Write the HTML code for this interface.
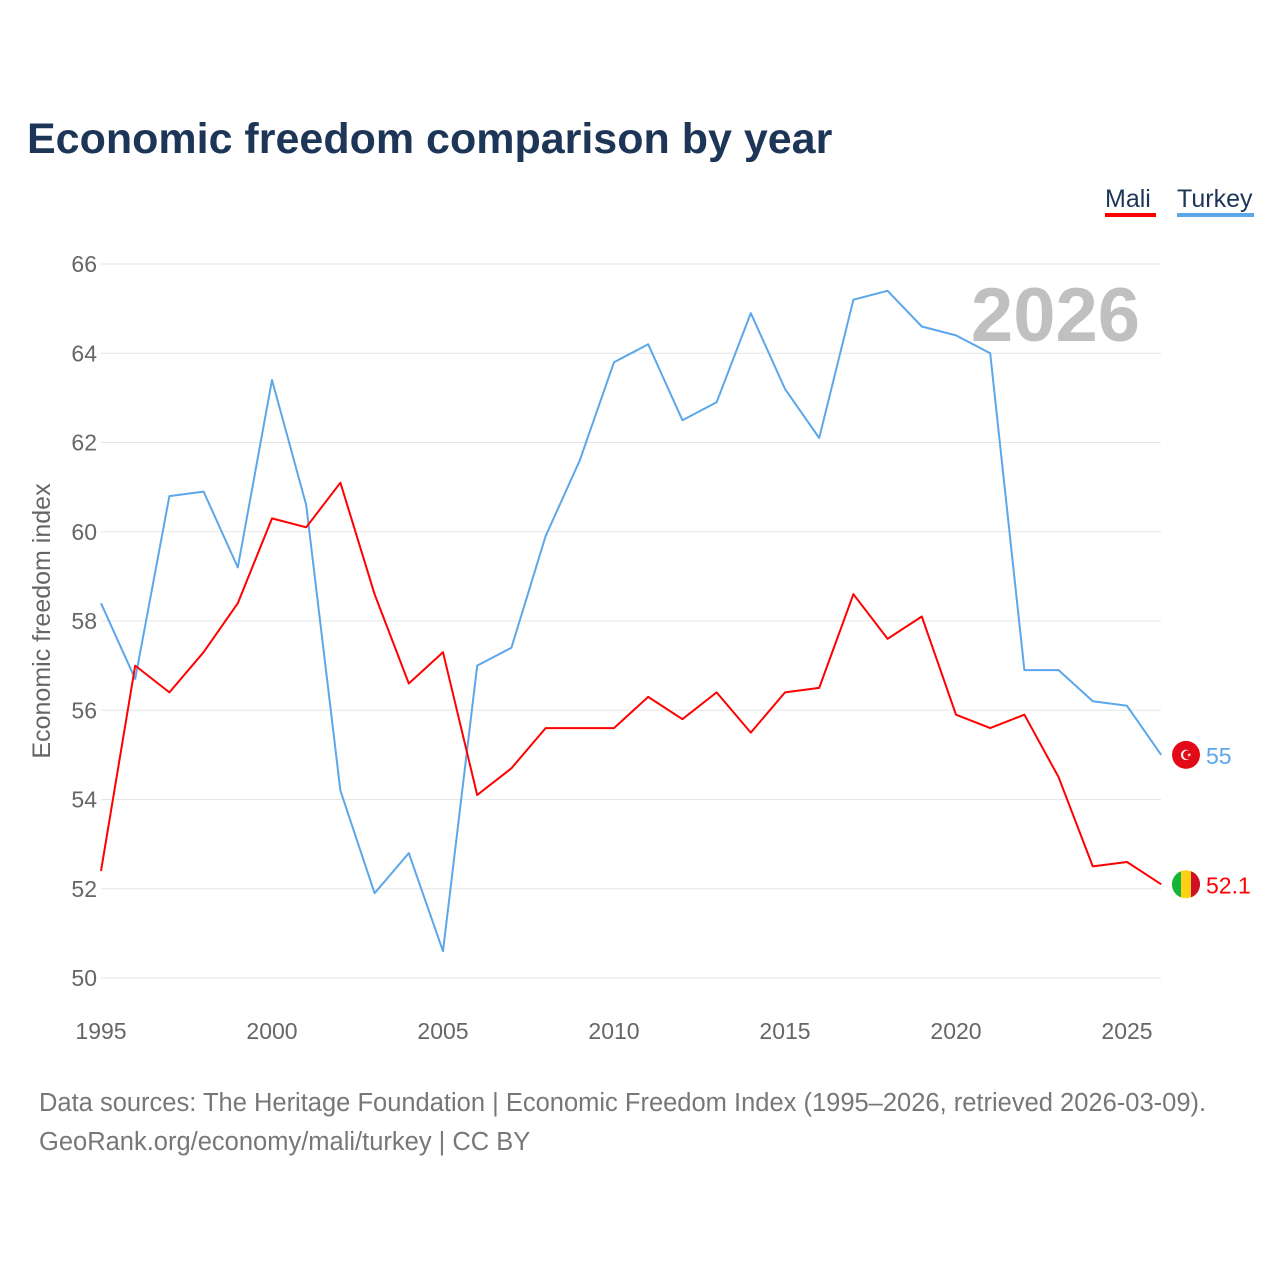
<!DOCTYPE html>
<html><head><meta charset="utf-8">
<style>
body{margin:0;background:#fff;font-family:"Liberation Sans",sans-serif;}
#wrap{position:relative;width:1280px;height:1280px;overflow:hidden;}
</style></head>
<body>
<div id="wrap">
<svg id="chart" width="1280" height="1280" xmlns="http://www.w3.org/2000/svg">
<text x="27" y="153" font-size="43" font-weight="bold" fill="#1d3557" font-family="Liberation Sans, sans-serif">Economic freedom comparison by year</text>
<g>
<text x="1105" y="207" font-size="25" fill="#1d3557">Mali</text>
<rect x="1105" y="213" width="51" height="4" fill="#ff0000"/>
<text x="1177" y="207" font-size="25" fill="#1d3557">Turkey</text>
<rect x="1177" y="213" width="77" height="4" fill="#5ca7ea"/>
</g>
<text x="1140" y="341" font-size="76" font-weight="bold" fill="#c0c0c0" text-anchor="end">2026</text>
<g id="grid"></g>
<g id="series"></g>
<text transform="translate(50,621) rotate(-90)" font-size="25" fill="#666" text-anchor="middle">Economic freedom index</text>
<text x="39" y="1111" font-size="25.5" fill="#777">Data sources: The Heritage Foundation | Economic Freedom Index (1995–2026, retrieved 2026-03-09).</text>
<text x="39" y="1150" font-size="25.5" fill="#777">GeoRank.org/economy/mali/turkey | CC BY</text>
</svg>
</div>
<script>
const years=[1995,1996,1997,1998,1999,2000,2001,2002,2003,2004,2005,2006,2007,2008,2009,2010,2011,2012,2013,2014,2015,2016,2017,2018,2019,2020,2021,2022,2023,2024,2025,2026];
const turkey=[58.4,56.7,60.8,60.9,59.2,63.4,60.6,54.2,51.9,52.8,50.6,57.0,57.4,59.9,61.6,63.8,64.2,62.5,62.9,64.9,63.2,62.1,65.2,65.4,64.6,64.4,64.0,56.9,56.9,56.2,56.1,55.0];
const mali=[52.4,57.0,56.4,57.3,58.4,60.3,60.1,61.1,58.6,56.6,57.3,54.1,54.7,55.6,55.6,55.6,56.3,55.8,56.4,55.5,56.4,56.5,58.6,57.6,58.1,55.9,55.6,55.9,54.5,52.5,52.6,52.1];
const yTicks=[50,52,54,56,58,60,62,64,66];
const xTicks=[1995,2000,2005,2010,2015,2020,2025];
const NS="http://www.w3.org/2000/svg";
function xs(y){return 101+(y-1995)*(1026/30);}
function ys(v){return 978-(v-50)*(714/16);}
function mk(tag,attrs,parent){const e=document.createElementNS(NS,tag);for(const k in attrs)e.setAttribute(k,attrs[k]);parent.appendChild(e);return e;}
const grid=document.getElementById('grid');
yTicks.forEach(t=>{
 const l=mk('line',{x1:101,x2:1161,y1:ys(t),y2:ys(t),stroke:'#e6e6e6','stroke-width':1},grid);
 
 
 const tx=mk('text',{x:97,y:ys(t)+8,'font-size':23,fill:'#666','text-anchor':'end'},grid);
 tx.textContent=t;
 
 
});
xTicks.forEach(t=>{
 const tx=mk('text',{x:xs(t),y:1039,'font-size':23,fill:'#666','text-anchor':'middle'},grid);
 tx.textContent=t;
 
 
});
const ser=document.getElementById('series');
function line(vals,color,name){
 const d=vals.map((v,i)=>(i?'L':'M')+xs(years[i]).toFixed(1)+','+ys(v).toFixed(1)).join('');
 const p=mk('path',{d:d,fill:'none',stroke:color,'stroke-width':2,'stroke-linejoin':'round'},ser);
 
 
 const lv=vals[vals.length-1],ly=ys(lv);
 const c=mk('circle',{cx:1186,cy:ly,r:14,fill:name==='turkey'?'#e30a17':'#fcd116'},ser);
 
 
 if(name==='mali'){
  const a=mk('path',{d:`M1181,${ly-13.1}A14,14 0 0 0 1181,${ly+13.1}Z`,fill:'#14b53a'},ser);
  
  
  const b=mk('path',{d:`M1191,${ly-13.1}A14,14 0 0 1 1191,${ly+13.1}Z`,fill:'#ce1126'},ser);
  
  
 } else {
  const m=mk('text',{x:1186,y:ly+5,'font-size':14,fill:'#fff','text-anchor':'middle'},ser);
  m.textContent='☪';
  
  
 }
 const t=mk('text',{x:1206,y:ly+9,'font-size':23,fill:color},ser);
 t.textContent=String(lv);
 
 
}
line(turkey,'#5ca7ea','turkey');
line(mali,'#ff0000','mali');
</script>
</body></html>
